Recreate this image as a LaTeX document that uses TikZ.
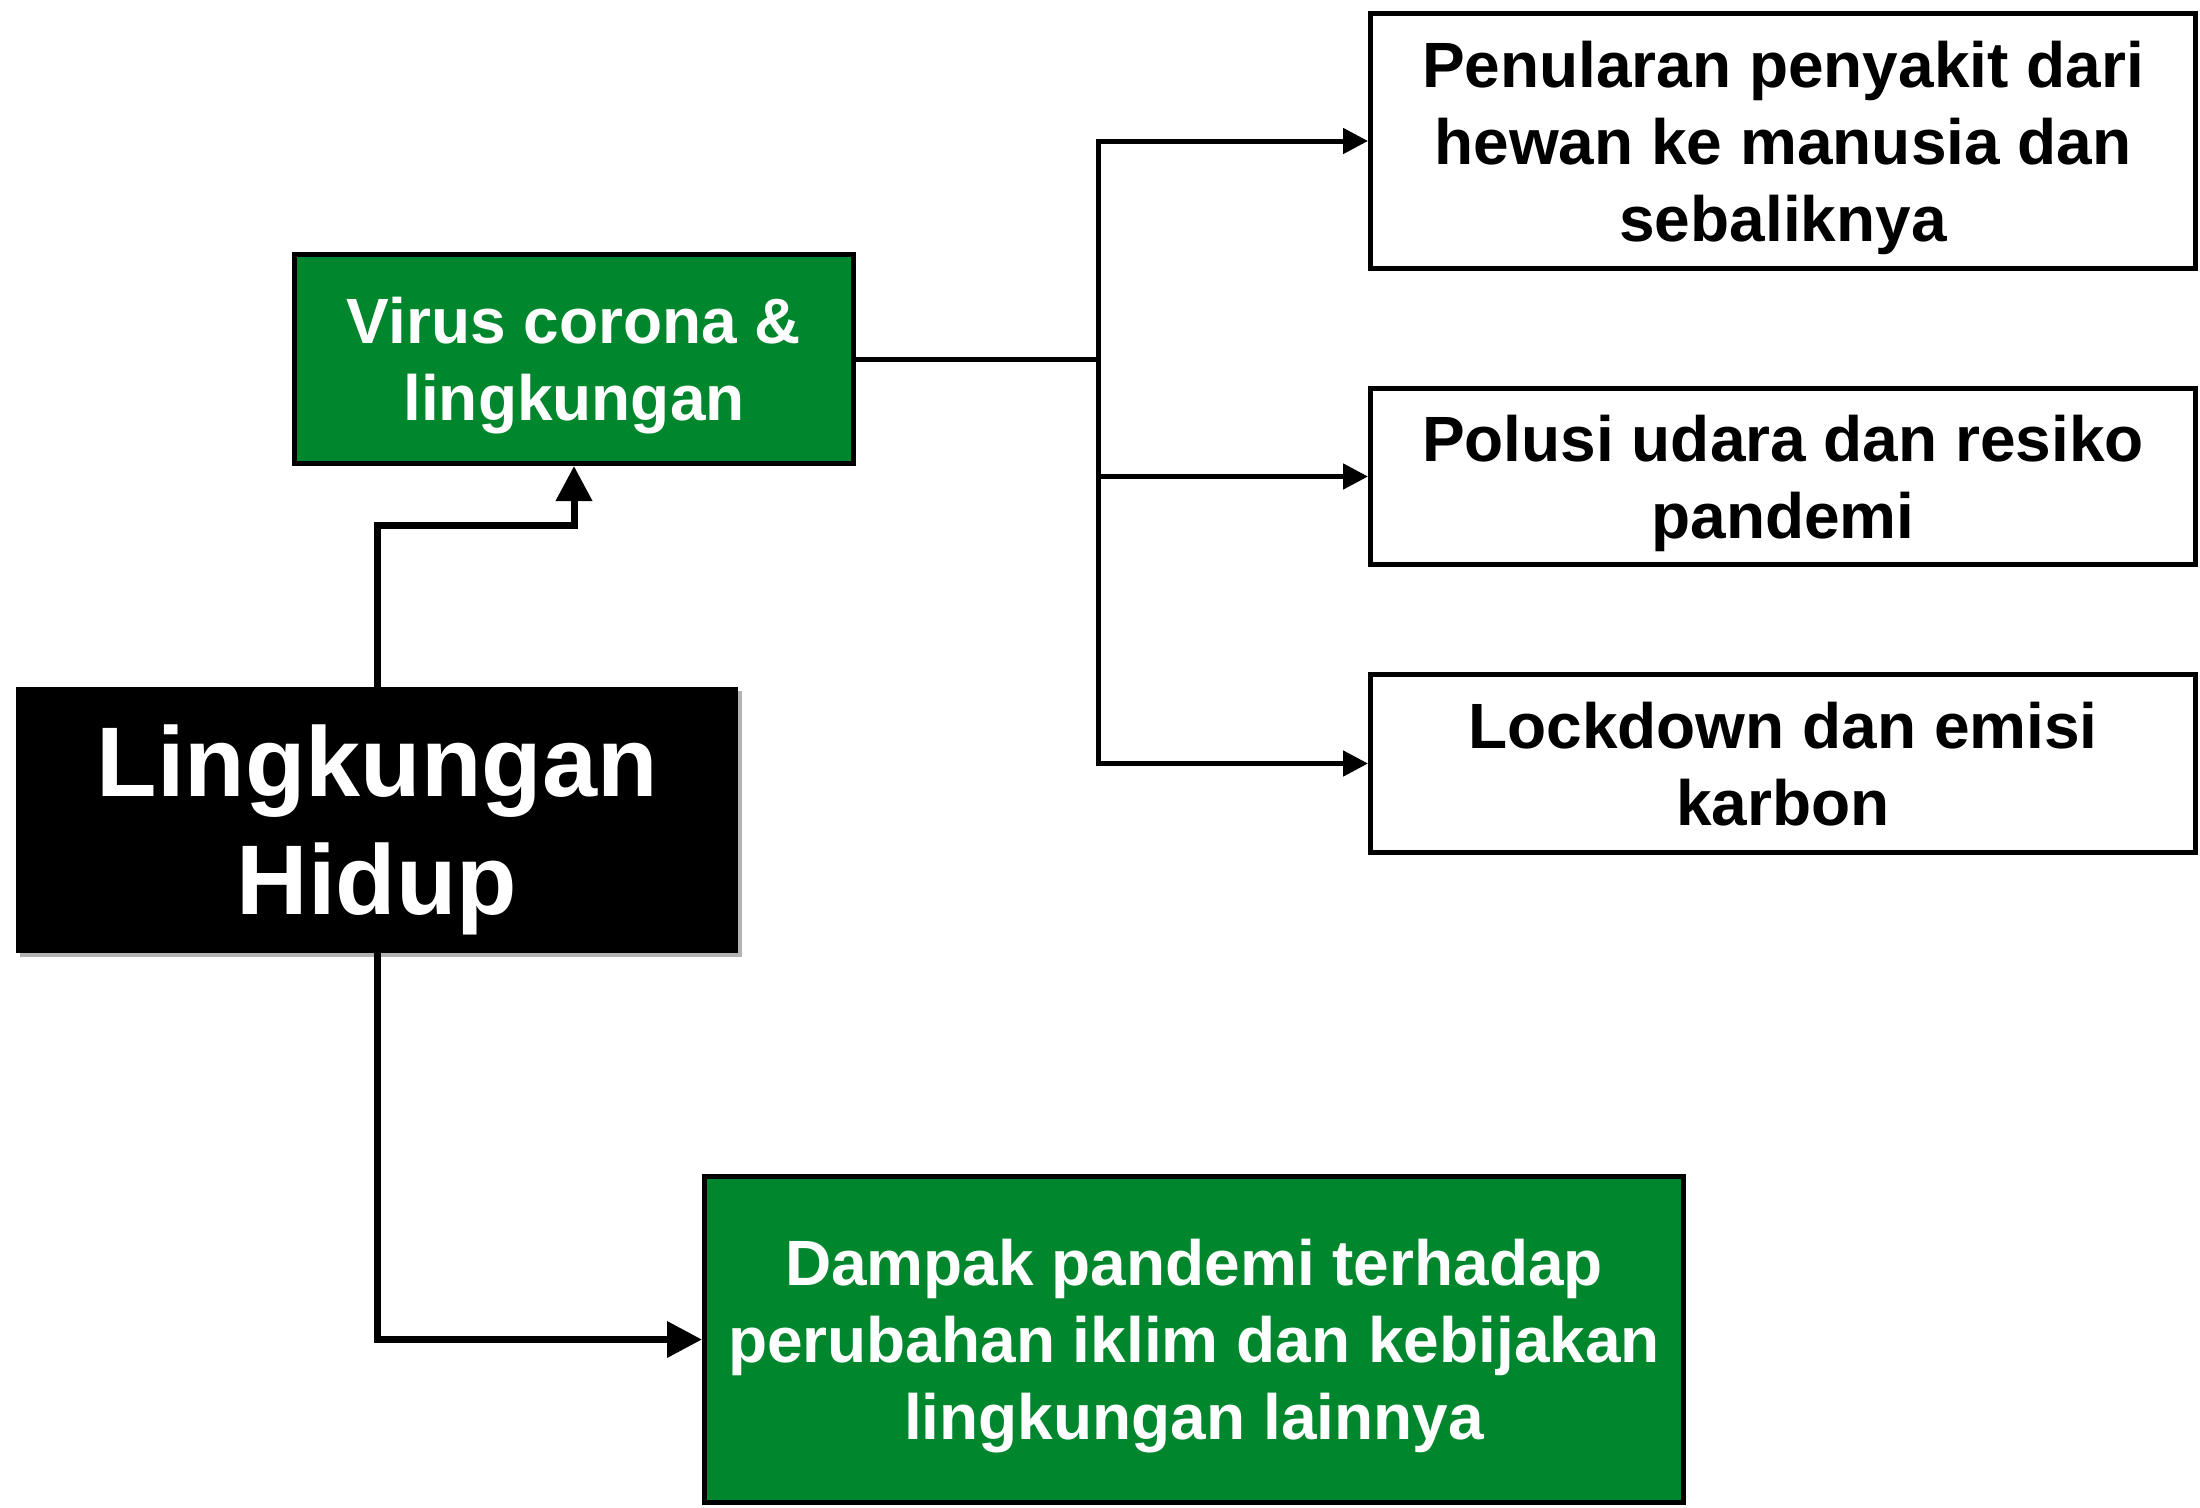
\documentclass[tikz,border=0pt]{standalone}
\usepackage{fontspec}
\setmainfont{Liberation Sans}
\usetikzlibrary{arrows.meta,shadows}
\definecolor{boxgreen}{RGB}{0,134,44}
\begin{document}
\begin{tikzpicture}[x=1pt,y=-1pt,
  box/.style={draw=black, line width=5pt, inner sep=0pt, align=center, text depth=0pt,
    font=\fontsize{64}{77}\selectfont\bfseries},
  greenbox/.style={box, fill=boxgreen, text=white},
  whitebox/.style={box, fill=white, text=black},
  mainbox/.style={fill=black, text=white, inner sep=0pt, align=center, text depth=0pt,
    font=\fontsize{99}{118}\selectfont\bfseries,
    drop shadow={shadow xshift=4pt, shadow yshift=-4pt, fill=black!50, opacity=0.6}},
  brline/.style={line width=5pt},
  brarr/.style={line width=5pt, -{Triangle[length=25pt,width=25pt]}},
  lharr/.style={line width=7pt, -{Triangle[length=35pt,width=35pt]}}]
\useasboundingbox (0,0) rectangle (2200,1507);

% nodes
\node[greenbox, minimum width=559pt, minimum height=209pt] (virus) at (574,359)
  {Virus corona \&\\lingkungan};
\node[mainbox, minimum width=722pt, minimum height=266pt] (lh) at (377,820)
  {Lingkungan\\Hidup};
\node[whitebox, minimum width=825pt, minimum height=255pt] (pen) at (1783,141)
  {Penularan penyakit dari\\hewan ke manusia dan\\sebaliknya};
\node[whitebox, minimum width=825pt, minimum height=176pt] (pol) at (1783,476.5)
  {Polusi udara dan resiko\\pandemi};
\node[whitebox, minimum width=825pt, minimum height=178pt] (lock) at (1783,763.5)
  {Lockdown dan emisi\\karbon};
\node[greenbox, minimum width=979pt, minimum height=326pt] (damp) at (1194,1339.5)
  {Dampak pandemi terhadap\\perubahan iklim dan kebijakan\\lingkungan lainnya};

% branch to the right boxes
\coordinate (bj) at (1098,359);
\draw[brline] (virus.east) -- (bj);
\draw[line width=5pt, {Triangle[length=25pt,width=25pt]}-{Triangle[length=25pt,width=25pt]}]
  (pen.west) -- (pen.west -| bj) -- (lock.west -| bj) -- (lock.west);
\draw[brarr] (pol.west -| bj) -- (pol.west);

% from main box
\draw[lharr] (lh.north) -- ++(0,-161) -| (virus.south);
\draw[lharr] (lh.south) |- (damp.west);
\end{tikzpicture}
\end{document}
